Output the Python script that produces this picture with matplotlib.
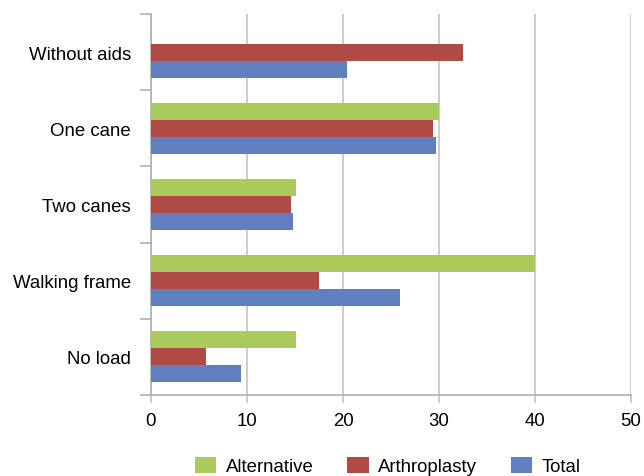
import matplotlib
matplotlib.use("Agg")
import matplotlib.pyplot as plt
import numpy as np

categories = ["Without aids", "One cane", "Two canes", "Walking frame", "No load"]
series_names = ["Alternative", "Arthroplasty", "Total"]
alternative = [0, 30.0, 15.1, 40.0, 15.1]
arthroplasty = [32.5, 29.4, 14.6, 17.5, 5.7]
total = [20.4, 29.7, 14.8, 25.9, 9.4]
x_ticks = [0, 10, 20, 30, 40, 50]

colors = ["#AACB5C", "#AF4A45", "#607FBF"]

plt.rcParams['font.family'] = ['Liberation Sans', 'DejaVu Sans']
FS = 13.4

fig = plt.figure(figsize=(6.44, 4.77), dpi=100)
ax = fig.add_axes([151/644, 1-396/477, (631-151)/644, (396-15)/477])

pos = np.arange(len(categories))
h = 0.223
for i, (vals, name, c) in enumerate(zip([alternative, arthroplasty, total], series_names, colors)):
    ax.barh(pos + (i - 1) * h, vals, height=h, color=c, label=name, zorder=3)

ax.set_xlim(0, 50)
ax.set_ylim(4.5, -0.5)
ax.set_xticks(x_ticks)
ax.set_xticklabels([str(t) for t in x_ticks], fontsize=FS)
ax.grid(axis='x', color='#C8C8C8', linewidth=1.3, zorder=0)

ax.set_yticks(np.arange(-0.5, 5.0, 1.0))
ax.set_yticklabels([])
ax.set_yticks(pos, minor=True)
ax.set_yticklabels(categories, minor=True, fontsize=FS)
ax.tick_params(axis='y', which='major', length=8, color='#B0B0B0', width=1.2)
ax.tick_params(axis='y', which='minor', length=0, pad=14.4)
ax.tick_params(axis='x', length=6, color='#C8C8C8', width=1.3, pad=6)

for s in ['top', 'right']:
    ax.spines[s].set_visible(False)
for s in ['left', 'bottom']:
    ax.spines[s].set_color('#B0B0B0')
    ax.spines[s].set_linewidth(1.2)

fig.legend(loc='center', bbox_to_anchor=(0.602, 1-467/477), ncol=3, frameon=False,
           fontsize=FS, handlelength=1.17, handleheight=0.96, handletextpad=0.5,
           columnspacing=1.8)

fig.savefig("out.png", dpi=100)
